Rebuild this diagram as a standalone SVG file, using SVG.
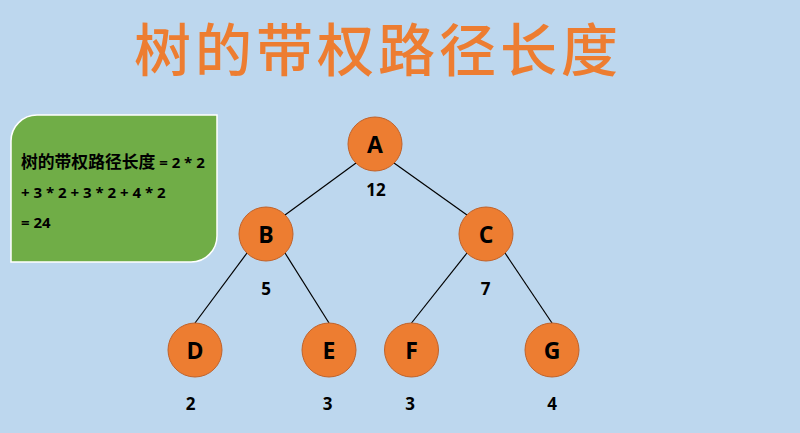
<svg xmlns="http://www.w3.org/2000/svg" width="800" height="433" viewBox="0 0 800 433">
<style>
.node circle{fill:#ED7D31;stroke:#C0622A;stroke-width:1}
.node text{font-family:"Open Sans","Liberation Sans",sans-serif;font-weight:bold;font-size:23px;fill:#000;text-anchor:middle}
.w{font-family:"Open Sans","Liberation Sans",sans-serif;font-weight:bold;font-size:17px;fill:#000;text-anchor:middle}
.edges line{stroke:#000;stroke-width:1.2}
.box{font-family:"Open Sans","Noto Sans CJK SC",sans-serif;font-weight:bold;font-size:15px;fill:#000}
</style>
<rect width="800" height="433" fill="#BDD7EE"/>
<text x="378" y="71" text-anchor="middle" font-family="'Noto Sans CJK SC',sans-serif" font-size="57" font-weight="500" letter-spacing="4" fill="#ED7D31">树的带权路径长度</text>
<g id="formula">
<path d="M37,115 H217 V236 A26,26 0 0 1 191,262 H11 V141 A26,26 0 0 1 37,115 Z" fill="#70AD47" stroke="#FFFFFF" stroke-width="1.5"/>
<text class="box" x="21" y="168"><tspan font-family="'Noto Sans CJK SC',sans-serif" font-size="16.8">树的带权路径长度</tspan> = 2 * 2</text>
<text class="box" x="21" y="197.5">+ 3 * 2 + 3 * 2 + 4 * 2</text>
<text class="box" x="21" y="227.5">= 24</text>
</g>
<g class="edges">
<line x1="356" y1="163" x2="285" y2="215"/>
<line x1="394" y1="163" x2="467" y2="215"/>
<line x1="247" y1="253" x2="195" y2="323"/>
<line x1="285" y1="253" x2="329" y2="323"/>
<line x1="467" y1="253" x2="411.5" y2="323"/>
<line x1="505" y1="253" x2="552" y2="323"/>
</g>
<g id="A" class="node"><circle cx="375" cy="144" r="27"/><text x="375" y="152.5">A</text></g>
<g id="B" class="node"><circle cx="266" cy="234" r="27"/><text x="266" y="242.5">B</text></g>
<g id="C" class="node"><circle cx="486" cy="234" r="27"/><text x="486" y="242.5">C</text></g>
<g id="D" class="node"><circle cx="195" cy="350" r="27"/><text x="195" y="358.5">D</text></g>
<g id="E" class="node"><circle cx="329" cy="350" r="27"/><text x="329" y="358.5">E</text></g>
<g id="F" class="node"><circle cx="411.5" cy="350" r="27"/><text x="411.5" y="358.5">F</text></g>
<g id="G" class="node"><circle cx="552" cy="350" r="27"/><text x="552" y="358.5">G</text></g>
<g id="weights">
<text class="w" x="376" y="196">12</text>
<text class="w" x="266" y="295">5</text>
<text class="w" x="485.5" y="295">7</text>
<text class="w" x="190.5" y="409.5">2</text>
<text class="w" x="327.5" y="409.5">3</text>
<text class="w" x="410" y="409.5">3</text>
<text class="w" x="552" y="409.5">4</text>
</g>
</svg>
